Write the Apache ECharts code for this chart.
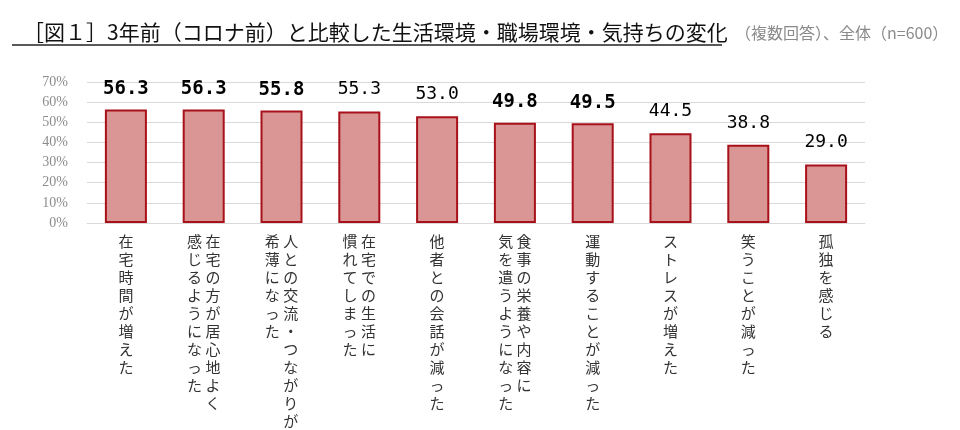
<!DOCTYPE html>
<html>
<head>
<meta charset="utf-8">
<script src="https://cdn.jsdelivr.net/npm/echarts@6/dist/echarts.min.js"></script>
<style>
html,body{margin:0;padding:0;background:#fff;}
#chart{width:960px;height:430px;}
</style>
</head>
<body>
<div id="chart"></div>
<script>
// Category labels, split into vertical columns (right column first)
var labelColumns = [
  ["在宅時間が増えた"],
  ["在宅の方が居心地よく", "感じるようになった"],
  ["人との交流・つながりが", "希薄になった"],
  ["在宅での生活に", "慣れてしまった"],
  ["他者との会話が減った"],
  ["食事の栄養や内容に", "気を遣うようになった"],
  ["運動することが減った"],
  ["ストレスが増えた"],
  ["笑うことが減った"],
  ["孤独を感じる"]
];
var categories = labelColumns.map(function (c) { return c.join(""); });
var values = [56.3, 56.3, 55.8, 55.3, 53.0, 49.8, 49.5, 44.5, 38.8, 29.0];
var yTicks = [0, 10, 20, 30, 40, 50, 60, 70];

var titleText = "［図１］3年前（コロナ前）と比較した生活環境・職場環境・気持ちの変化";
var subtitleText = "（複数回答）、全体（n=600）";

// Which value labels are drawn bold in the reference
var boldIdx = [0, 1, 2, 5, 6];

function verticalLabel(name) {
  var idx = categories.indexOf(name);
  var cols = labelColumns[idx].map(function (s) { return Array.from(s); });
  var n = Math.max.apply(null, cols.map(function (c) { return c.length; }));
  var rows = [];
  for (var i = 0; i < n; i++) {
    if (cols.length === 1) {
      rows.push(cols[0][i]);
    } else {
      var right = cols[0][i] || "　";
      var left = cols[1][i] || "　";
      rows.push(left + " " + right);
    }
  }
  return rows.join("\n");
}

var barData = values.map(function (v, i) {
  var bold = boldIdx.indexOf(i) >= 0;
  return {
    value: v,
    label: {
      fontWeight: bold ? "bold" : "normal",
      fontSize: bold ? 19 : 18,
      distance: bold ? 11 : 13
    }
  };
});

var chart = echarts.init(document.getElementById("chart"));
chart.setOption({
  backgroundColor: "#ffffff",
  animation: false,
  title: [
    {
      text: titleText,
      left: 18,
      top: 17,
      textStyle: { fontFamily: "Noto Sans CJK JP", fontSize: 21, fontWeight: "normal", color: "#111" }
    },
    {
      text: subtitleText,
      left: 730,
      top: 20,
      textStyle: { fontFamily: "Noto Sans CJK JP", fontSize: 16, fontWeight: "normal", color: "#8a8a8a" }
    }
  ],
  graphic: [
    {
      type: "line",
      shape: { x1: 12, y1: 45, x2: 722, y2: 45 },
      style: { stroke: "#222", lineWidth: 1.5 }
    }
  ],
  grid: { left: 87, right: 95, top: 82, bottom: 203 },
  xAxis: {
    type: "category",
    data: categories,
    axisLine: { show: true, lineStyle: { color: "#d9d9d9", width: 1 } },
    axisTick: { show: false },
    axisLabel: {
      interval: 0,
      margin: 9,
      fontFamily: "Noto Sans CJK JP",
      fontSize: 15,
      lineHeight: 18,
      color: "#333",
      verticalAlign: "top",
      formatter: verticalLabel
    }
  },
  yAxis: {
    type: "value",
    min: 0,
    max: 70,
    interval: 10,
    axisLine: { show: false },
    axisTick: { show: false },
    splitLine: { lineStyle: { color: "#d9d9d9", width: 1 } },
    axisLabel: {
      margin: 19,
      fontFamily: "Liberation Serif",
      fontSize: 14,
      color: "#8c8c8c",
      formatter: function (v) { return v + "%"; }
    }
  },
  series: [
    {
      type: "bar",
      data: barData,
      barWidth: "54%",
      itemStyle: { color: "#d99694", borderColor: "#a8101a", borderWidth: 2 },
      label: {
        show: true,
        position: "top",
        fontFamily: "DejaVu Sans Mono",
        fontSize: 18,
        color: "#000",
        formatter: function (p) { return p.value.toFixed(1); }
      }
    }
  ]
});
</script>
</body>
</html>
